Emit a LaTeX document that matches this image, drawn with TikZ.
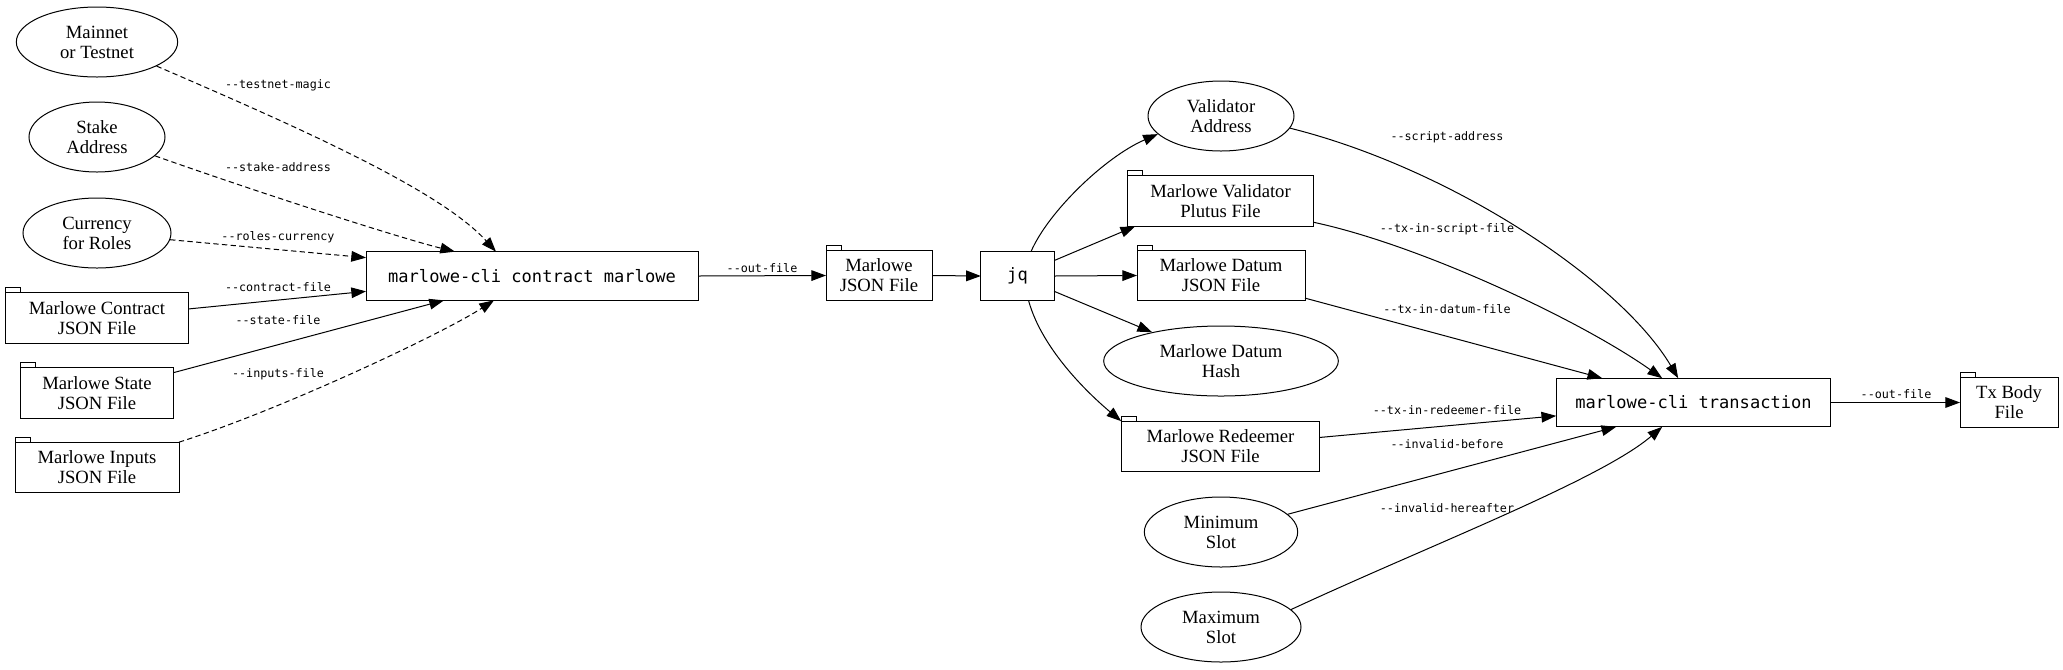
\documentclass[tikz,border=0pt]{standalone}
\usepackage{fontspec}
\setmainfont{Liberation Serif}
\setmonofont{DejaVu Sans Mono}
\usepackage{tikz}
\usetikzlibrary{shapes.geometric,arrows.meta,calc}

\begin{document}
\begin{tikzpicture}[x=0.75pt,y=-0.75pt,line width=0.75pt,font=\fontsize{14}{15}\selectfont,
  bulle/.style={ellipse,draw,align=center,inner sep=1pt,minimum height=52.5pt,minimum width=#1},
  fichier/.style={rectangle,draw,align=center,inner sep=1pt,outer sep=0pt,minimum height=38pt,minimum width=#1},
  cmd/.style={rectangle,draw,outer sep=0pt,minimum height=36.5pt,minimum width=#1,
              font=\ttfamily\fontsize{12.8}{14}\selectfont},
  drapeau/.style={font=\ttfamily\fontsize{8.8}{10}\selectfont,inner sep=0pt},
  fl/.style={-{Triangle[length=11pt,width=8pt]}},
  fld/.style={fl,dash pattern=on 4pt off 2.5pt}]

  \useasboundingbox (0,0) rectangle (2063,669);

  \node[bulle=121pt] (Net) at (97,42) {Mainnet\\or Testnet};
  \node[bulle=102pt] (Stk) at (97,137) {Stake\\Address};
  \node[bulle=111pt] (Cur) at (97,233) {Currency\\for Roles};
  \node[fichier=137pt] (Ctr) at (97,318) {Marlowe Contract\\JSON File};
  \node[fichier=115pt] (Sta) at (97,393) {Marlowe State\\JSON File};
  \node[fichier=123pt] (Inp) at (97,467.5) {Marlowe Inputs\\JSON File};

  \node[cmd=249pt] (CM) at (532,276) {marlowe-cli contract marlowe};
  \node[fichier=79.5pt] (MJ) at (879,275.5) {Marlowe\\JSON File};
  \node[cmd=55pt] (JQ) at (1017.5,276) {jq};

  \node[bulle=109.5pt] (VA) at (1221,116) {Validator\\Address};
  \node[fichier=140pt] (VP) at (1220.5,201) {Marlowe Validator\\Plutus File};
  \node[fichier=126pt] (DJ) at (1221,275.5) {Marlowe Datum\\JSON File};
  \node[bulle=176pt] (DH) at (1221,361) {Marlowe Datum\\Hash};
  \node[fichier=149pt] (RJ) at (1220.5,446.5) {Marlowe Redeemer\\JSON File};
  \node[bulle=115pt] (Min) at (1221,532) {Minimum\\Slot};
  \node[bulle=120pt] (Max) at (1221,627) {Maximum\\Slot};

  \node[cmd=206pt] (TX) at (1693.5,402.5) {marlowe-cli transaction};
  \node[fichier=73.5pt] (TB) at (2009,402.5) {Tx Body\\File};

  \foreach \f in {Ctr,Sta,Inp,MJ,VP,DJ,RJ,TB}
    \draw (\f.north west) rectangle ++(15,-5);

  \draw[fld] (Net.-22) .. controls (300,128) and (440,190) .. ($(CM.north west)+(130,0)$);
  \draw[fld] (Stk.-18) .. controls (260,193) and (400,238) .. ($(CM.north west)+(89,0)$);
  \draw[fld] (Cur) -- ($(CM.north west)+(0,6)$);
  \draw[fl] (Ctr) -- ($(CM.south west)+(0,-9)$);
  \draw[fl] (Sta) -- ($(CM.south west)+(78,0)$);
  \draw[fld] (Inp.north east) .. controls (280,410) and (440,335) .. ($(CM.south west)+(128,0)$);

  \node[drapeau] (l1) at (278,85) {--testnet-magic};
  \node[drapeau] (l2) at (278,167) {--stake-address};
  \node[drapeau] (l3) at (278,237) {--roles-currency};
  \node[drapeau] (l4) at (278,287) {--contract-file};
  \node[drapeau] (l5) at (278,320) {--state-file};
  \node[drapeau] (l6) at (278,374) {--inputs-file};

  \draw[fl] (CM.east) -- (MJ.west);
  \node[drapeau] (l7) at (762,268) {--out-file};
  \draw[fl] (MJ.east) -- (JQ.west);

  \draw[fl] ($(JQ.north)+(13.5,0)$) .. controls (1048,212) and (1105,157) .. (VA.196);
  \draw[fl] (JQ) -- ($(VP.south west)+(8,0)$);
  \draw[fl] (JQ.east) -- (DJ.west);
  \draw[fl] (JQ) -- (DH);
  \draw[fl] ($(JQ.south)+(11,0)$) .. controls (1042,350) and (1090,395) .. (RJ.north west);

  \draw[fl] (VA.-10) .. controls (1450,168) and (1620,280) .. ($(TX.north west)+(122,0)$);
  \draw[fl] ($(VP.south east)+(0,-4)$) .. controls (1420,245) and (1580,320) .. ($(TX.north west)+(106,0)$);
  \draw[fl] (DJ) -- ($(TX.north west)+(46,0)$);
  \draw[fl] (RJ) -- ($(TX.south west)+(0,-11)$);
  \draw[fl] (Min) -- ($(TX.south west)+(60,0)$);
  \draw[fl] (Max.14) .. controls (1430,545) and (1600,480) .. ($(TX.south west)+(106,0)$);

  \node[drapeau] (l8) at (1447,137) {--script-address};
  \node[drapeau] (l9) at (1447,229) {--tx-in-script-file};
  \node[drapeau] (l10) at (1447,309) {--tx-in-datum-file};
  \node[drapeau] (l11) at (1447,410) {--tx-in-redeemer-file};
  \node[drapeau] (l12) at (1447,444) {--invalid-before};
  \node[drapeau] (l13) at (1447,508) {--invalid-hereafter};

  \draw[fl] (TX.east) -- (TB.west);
  \node[drapeau] (l14) at (1896,394) {--out-file};
\end{tikzpicture}
\end{document}
